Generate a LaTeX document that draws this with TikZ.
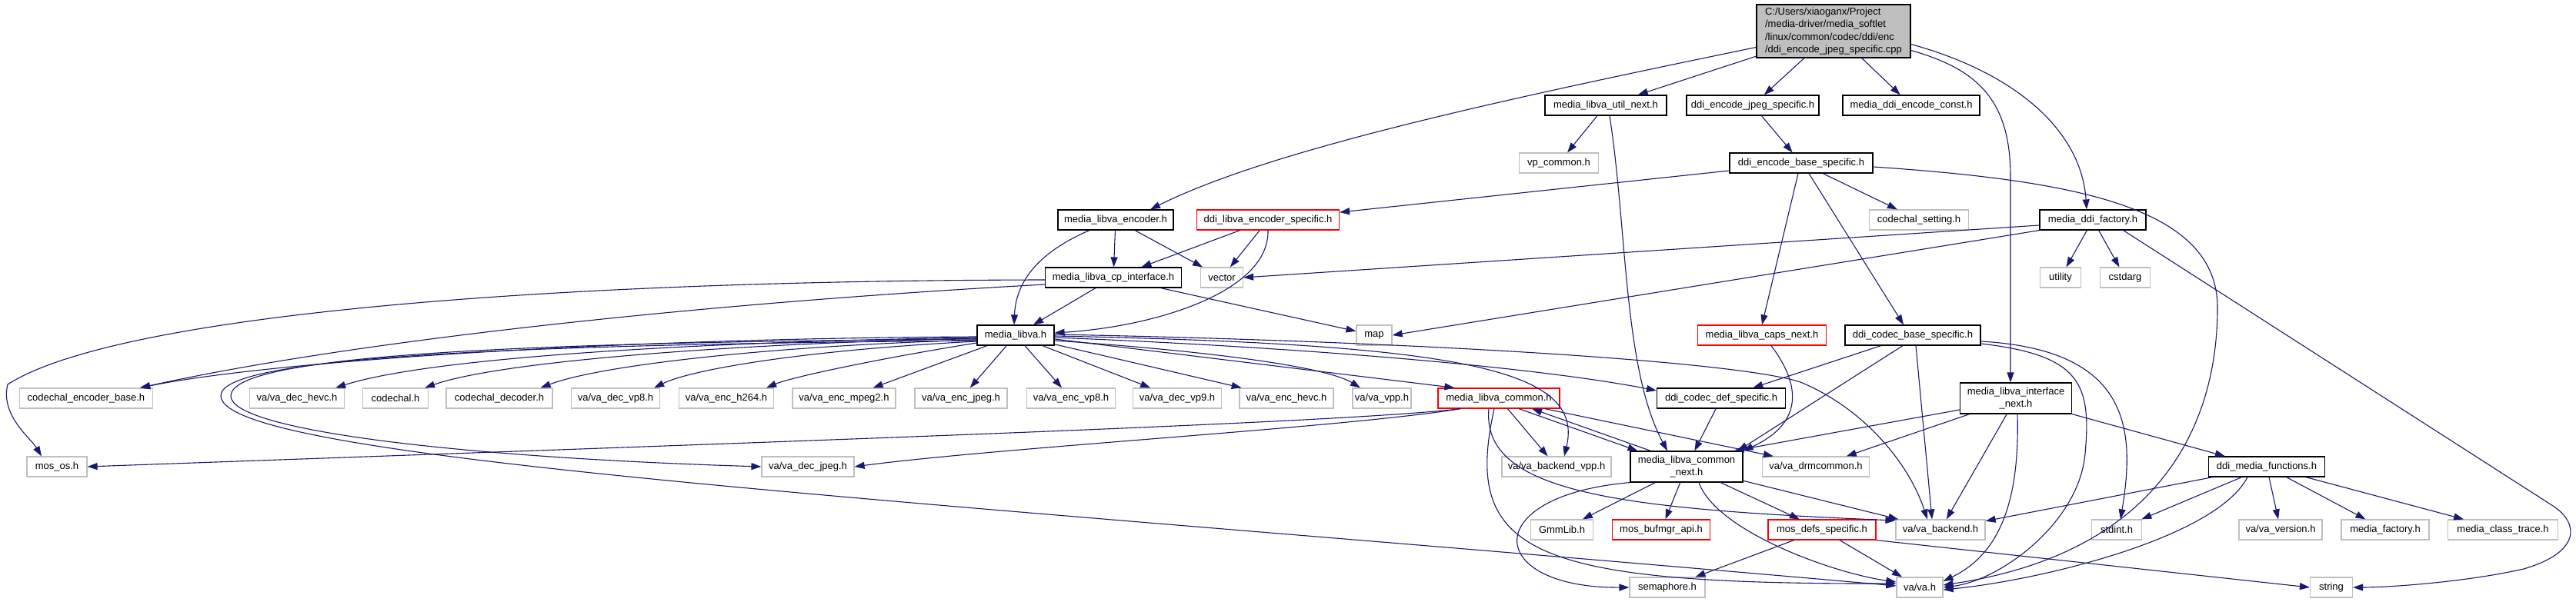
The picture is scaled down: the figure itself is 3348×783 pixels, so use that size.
\documentclass[tikz,border=0pt]{standalone}
\usepackage{fontspec}
\setmainfont{Liberation Sans}
\usetikzlibrary{arrows.meta,calc}
\definecolor{edgeblue}{HTML}{191970}
\definecolor{extgray}{HTML}{BFBFBF}
\definecolor{redb}{HTML}{FF0000}
\begin{document}
\begin{tikzpicture}[x=1pt,y=-1pt,
  nbox/.style={draw, line width=1.2pt, fill=white, inner sep=0pt, minimum height=26pt, align=center, font=\fontsize{13}{16}\selectfont},
  docbox/.style={nbox, draw=black},
  extbox/.style={nbox, draw=extgray},
  redbox/.style={nbox, draw=redb},
  rootbox/.style={nbox, draw=black, fill=extgray, align=left, font=\fontsize{13}{16.5}\selectfont},
  edge/.style={draw=edgeblue, line width=1.1pt, -{Triangle[length=13pt,width=9pt]}}
]
\fill[white] (0,0) rectangle (3348,783);
\useasboundingbox (0,0) rectangle (3348,783);

% ---------- nodes ----------
\node[rootbox, minimum width=200pt, minimum height=69pt] (root) at (2383,40.5) {C:/Users/xiaoganx/Project\\/media-driver/media\_softlet\\/linux/common/codec/ddi/enc\\/ddi\_encode\_jpeg\_specific.cpp};

\node[docbox, minimum width=158pt] (util) at (2087,137) {media\_libva\_util\_next.h};
\node[docbox, minimum width=172pt] (jpeg) at (2278,137) {ddi\_encode\_jpeg\_specific.h};
\node[docbox, minimum width=178pt] (econst) at (2484,137) {media\_ddi\_encode\_const.h};

\node[extbox, minimum width=103pt] (vpc) at (2026,212) {vp\_common.h};
\node[docbox, minimum width=186pt] (ebase) at (2341,212) {ddi\_encode\_base\_specific.h};

\node[docbox, minimum width=150pt] (menc) at (1450,286) {media\_libva\_encoder.h};
\node[redbox, minimum width=185pt] (dles) at (1648,286) {ddi\_libva\_encoder\_specific.h};
\node[extbox, minimum width=129pt] (cset) at (2494,286) {codechal\_setting.h};
\node[docbox, minimum width=138pt] (mdf) at (2720,286) {media\_ddi\_factory.h};

\node[docbox, minimum width=177pt] (cpi) at (1447,361) {media\_libva\_cp\_interface.h};
\node[extbox, minimum width=55pt] (vector) at (1588,361) {vector};
\node[extbox, minimum width=53pt] (utility) at (2678,361) {utility};
\node[extbox, minimum width=65pt] (cstdarg) at (2762,361) {cstdarg};

\node[docbox, minimum width=100pt] (mlv) at (1320,436) {media\_libva.h};
\node[extbox, minimum width=46pt] (map) at (1786,436) {map};
\node[redbox, minimum width=167pt] (caps) at (2290,436) {media\_libva\_caps\_next.h};
\node[docbox, minimum width=176pt] (cbase) at (2486,436) {ddi\_codec\_base\_specific.h};

\node[extbox, minimum width=173pt] (ceb) at (112,518) {codechal\_encoder\_base.h};
\node[extbox, minimum width=123pt] (vdhevc) at (386,518) {va/va\_dec\_hevc.h};
\node[extbox, minimum width=85pt] (cch) at (514,518) {codechal.h};
\node[extbox, minimum width=138pt] (cdec) at (649,518) {codechal\_decoder.h};
\node[extbox, minimum width=115pt] (vdvp8) at (800,518) {va/va\_dec\_vp8.h};
\node[extbox, minimum width=123pt] (veh264) at (944,518) {va/va\_enc\_h264.h};
\node[extbox, minimum width=134pt] (vempeg2) at (1097,518) {va/va\_enc\_mpeg2.h};
\node[extbox, minimum width=120pt] (vejpeg) at (1249,518) {va/va\_enc\_jpeg.h};
\node[extbox, minimum width=115pt] (vevp8) at (1392,518) {va/va\_enc\_vp8.h};
\node[extbox, minimum width=115pt] (vdvp9) at (1530,518) {va/va\_dec\_vp9.h};
\node[extbox, minimum width=122pt] (vehevc) at (1672,518) {va/va\_enc\_hevc.h};
\node[extbox, minimum width=76pt] (vvpp) at (1796,518) {va/va\_vpp.h};
\node[redbox, minimum width=158pt] (mlc) at (1948,518) {media\_libva\_common.h};
\node[docbox, minimum width=167pt] (cdef) at (2237,518) {ddi\_codec\_def\_specific.h};
\node[docbox, minimum width=145pt, minimum height=40pt] (inext) at (2620,518) {media\_libva\_interface\\\_next.h};

\node[extbox, minimum width=78pt] (mos) at (74,607) {mos\_os.h};
\node[extbox, minimum width=120pt] (vdjpeg) at (1050,607) {va/va\_dec\_jpeg.h};
\node[extbox, minimum width=142pt] (vbvpp) at (2023,607) {va/va\_backend\_vpp.h};
\node[docbox, minimum width=146pt, minimum height=40pt] (cnext) at (2192,607) {media\_libva\_common\\\_next.h};
\node[extbox, minimum width=139pt] (drm) at (2360,607) {va/va\_drmcommon.h};
\node[docbox, minimum width=151pt] (dmf) at (2946,607) {ddi\_media\_functions.h};

\node[extbox, minimum width=81pt] (gmm) at (2030,689) {GmmLib.h};
\node[redbox, minimum width=127pt] (bufmgr) at (2159,689) {mos\_bufmgr\_api.h};
\node[redbox, minimum width=140pt] (mdefs) at (2368,689) {mos\_defs\_specific.h};
\node[extbox, minimum width=116pt] (vbe) at (2522,689) {va/va\_backend.h};
\node[extbox, minimum width=65pt] (stdint) at (2751,689) {stdint.h};
\node[extbox, minimum width=108pt] (vver) at (2964,689) {va/va\_version.h};
\node[extbox, minimum width=114pt] (mfac) at (3100,689) {media\_factory.h};
\node[extbox, minimum width=143pt] (mct) at (3253,689) {media\_class\_trace.h};

\node[extbox, minimum width=98pt] (sem) at (2167,764) {semaphore.h};
\node[extbox, minimum width=60pt] (vah) at (2495,764) {va/va.h};
\node[extbox, minimum width=55pt] (string) at (3030,764) {string};

% ---------- edges ----------
% root
\draw[edge] ($(root.west)+(0,21)$) .. controls (1950,130) and (1650,195) .. ($(menc.north)+(45,0)$);
\draw[edge] (root) -- (util);
\draw[edge] (root) -- (jpeg);
\draw[edge] (root) -- (econst);
\draw[edge] ($(root.east)+(0,17)$) .. controls (2620,95) and (2705,170) .. ($(mdf.north)+(-8,0)$);
\draw[edge] ($(root.east)+(0,25)$) .. controls (2570,90) and (2613,130) .. (2613,230) -- ($(inext.north)+(-7,0)$);
% util
\draw[edge] (util) -- (vpc);
\draw[edge] ($(util.south)+(5,0)$) .. controls (2115,300) and (2110,480) .. ($(cnext.north)+(-25,0)$);
% jpeg
\draw[edge] (jpeg) -- (ebase);
% ebase
\draw[edge] (ebase) -- (dles);
\draw[edge] (ebase) -- (cset);
\draw[edge] ($(ebase.south)+(-4,0)$) -- (caps.north);
\draw[edge] ($(ebase.south)+(10,0)$) -- ($(cbase.north)+(-12,0)$);
\draw[edge] ($(ebase.east)+(0,5)$) .. controls (2700,235) and (2882,270) .. (2882,400) .. controls (2882,560) and (2800,720) .. ($(vah.east)+(0,-3)$);
% menc
\draw[edge] (menc) -- (cpi);
\draw[edge] (menc) -- (vector);
\draw[edge] ($(menc.south)+(-34,0)$) .. controls (1345,330) and (1320,370) .. ($(mlv.north)+(-2,0)$);
% dles
\draw[edge] (dles) -- (cpi);
\draw[edge] (dles) -- (vector);
\draw[edge] (dles.south) .. controls (1650,380) and (1500,425) .. ($(mlv.east)+(0,-3)$);
% cpi
\draw[edge] (cpi) -- (mlv);
\draw[edge] (cpi) -- (map);
\draw[edge] ($(cpi.west)+(0,9)$) .. controls (900,395) and (450,445) .. ($(ceb.north east)+(-17,0)$);
\draw[edge] ($(cpi.west)+(0,3)$) .. controls (700,365) and (150,410) .. (10,500) .. controls (0,540) and (40,570) .. ($(mos.north)+(-20,0)$);
% media_libva
\draw[edge] ($(mlv.west)+(0,2)$) .. controls (800,440) and (350,470) .. ($(ceb.north east)+(-17,0)$);
\draw[edge] ($(mlv.west)+(0,3)$) .. controls (900,445) and (560,465) .. ($(vdhevc.north east)+(-12,0)$);
\draw[edge] ($(mlv.west)+(0,4)$) .. controls (950,447) and (650,470) .. ($(cch.north east)+(-5,0)$);
\draw[edge] ($(mlv.west)+(0,6)$) .. controls (1000,450) and (780,475) .. ($(cdec.north east)+(-16,0)$);
\draw[edge] ($(mlv.west)+(0,8)$) .. controls (1050,455) and (900,480) .. ($(vdvp8.north east)+(-8,0)$);
\draw[edge] ($(mlv.west)+(0,10)$) .. controls (1150,465) and (1030,490) .. ($(veh264.north east)+(-10,0)$);
\draw[edge] (mlv) -- ($(vempeg2.north east)+(-30,0)$);
\draw[edge] (mlv) -- (vejpeg);
\draw[edge] (mlv) -- (vevp8);
\draw[edge] (mlv) -- (vdvp9);
\draw[edge] (mlv) -- (vehevc);
\draw[edge] ($(mlv.east)+(0,7)$) .. controls (1550,455) and (1720,475) .. ($(vvpp.north)+(-28,0)$);
\draw[edge] ($(mlv.east)+(0,5)$) -- ($(mlc.north west)+(22,0)$);
\draw[edge] ($(mlv.east)+(0,3)$) .. controls (1700,452) and (2000,478) .. ($(cdef.west)+(0,-10)$);
\draw[edge] ($(mlv.east)+(0,1)$) .. controls (1900,448) and (2060,480) .. ($(vbvpp.north)+(10,0)$);
\draw[edge] ($(mlv.east)+(0,-1)$) .. controls (1800,443) and (2250,468) .. (2340,497) .. controls (2420,530) and (2480,600) .. ($(vbe.north)+(-17,0)$);
\draw[edge] ($(mlv.west)+(0,5)$) .. controls (700,445) and (300,460) .. (300,515) .. controls (300,560) and (600,595) .. (vdjpeg.west);
\draw[edge] ($(mlv.west)+(0,7)$) .. controls (700,448) and (285,462) .. (287,515) .. controls (290,600) and (1200,650) .. ($(vah.west)+(0,-2)$);
% media_libva_common
\draw[edge] ($(mlc.south west)+(30,0)$) .. controls (1750,550) and (1000,575) .. (mos.east);
\draw[edge] ($(mlc.south west)+(30,0)$) .. controls (1750,556) and (1300,582) .. (vdjpeg.east);
\draw[edge] (mlc) -- (vbvpp);
\draw[edge] ($(mlc.south)+(26,0)$) -- ($(cnext.north west)+(10,0)$);
\draw[edge] ($(cnext.north west)+(27,0)$) -- ($(mlc.south)+(43,0)$);
\draw[edge] ($(mlc.south east)+(-20,0)$) -- ($(drm.north west)+(15,0)$);
\draw[edge] ($(mlc.south)+(-13,0)$) .. controls (1925,640) and (2100,662) .. ($(vbe.west)+(0,-12)$);
\draw[edge] ($(mlc.south)+(-6,0)$) .. controls (1900,720) and (1990,760) .. ($(vah.west)+(0,-5)$);
% media_libva_common_next
\draw[edge] (cnext.south west) .. controls (1920,645) and (1930,765) .. (sem.west);
\draw[edge] (cnext) -- (gmm);
\draw[edge] (cnext) -- (bufmgr);
\draw[edge] (cnext) -- (mdefs);
\draw[edge] (cnext) -- (vbe);
\draw[edge] ($(cnext.south)+(16,0)$) .. controls (2230,690) and (2380,745) .. ($(vah.west)+(0,-7)$);
% mos_defs_specific
\draw[edge] (mdefs) -- (sem);
\draw[edge] (mdefs) -- (vah);
\draw[edge] (mdefs.south east) -- (string.west);
% ddi_media_functions
\draw[edge] (dmf) -- (vbe);
\draw[edge] (dmf) -- (stdint);
\draw[edge] ($(dmf.south)+(-25,0)$) .. controls (2880,700) and (2650,755) .. ($(vah.east)+(0,3)$);
\draw[edge] (dmf) -- (vver);
\draw[edge] (dmf) -- (mfac);
\draw[edge] (dmf) -- (mct);
% media_libva_interface_next
\draw[edge] ($(inext.west)+(0,15)$) -- ($(cnext.north east)+(-12,0)$);
\draw[edge] (inext) -- (drm);
\draw[edge] (inext) -- (vbe);
\draw[edge] ($(inext.south)+(2,0)$) .. controls (2625,650) and (2600,720) .. ($(vah.east)+(0,-8)$);
\draw[edge] (inext.south east) -- ($(dmf.north west)+(22,0)$);
% ddi_codec_base_specific
\draw[edge] (cbase) -- (cdef);
\draw[edge] ($(cbase.south)+(-13,0)$) -- ($(cnext.north east)+(-7,0)$);
\draw[edge] ($(cbase.south)+(4,0)$) -- ($(vbe.north)+(-11,0)$);
\draw[edge] ($(cbase.east)+(0,8)$) .. controls (2770,455) and (2775,560) .. ($(stdint.north)+(5,0)$);
\draw[edge] ($(cbase.east)+(0,11)$) .. controls (2705,462) and (2718,500) .. (2710,590) .. controls (2702,680) and (2600,755) .. (vah.east);
% caps / def
\draw[edge] ($(caps.south)+(12,0)$) .. controls (2340,500) and (2345,550) .. (cnext.north east);
\draw[edge] (cdef) -- (cnext);
% media_ddi_factory
\draw[edge] ($(mdf.west)+(0,7)$) -- (vector.east);
\draw[edge] (mdf.south west) -- (map.east);
\draw[edge] (mdf) -- (utility);
\draw[edge] (mdf) -- (cstdarg);
\draw[edge] ($(mdf.south east)+(-30,0)$) -- (3318,658) .. controls (3352,680) and (3355,718) .. (3280,740) .. controls (3200,758) and (3100,764) .. (string.east);
\end{tikzpicture}
\end{document}
